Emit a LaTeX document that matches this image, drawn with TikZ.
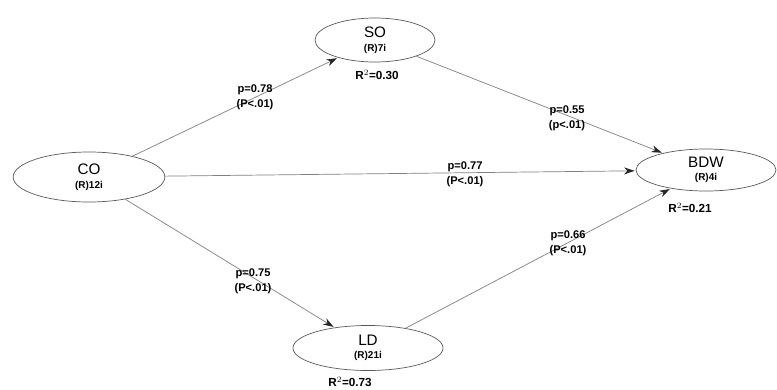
\documentclass[tikz,border=0pt]{standalone}
\usepackage{fontspec}
\setmainfont{Liberation Sans}
\usetikzlibrary{arrows.meta,shapes.geometric}

\begin{document}
\begin{tikzpicture}[
        x=0.03cm, y=-0.03cm,
        construct/.style={draw=black!65, line width=0.6pt, ellipse, align=center, inner sep=0pt,
            font=\fontsize{13}{13.5}\selectfont},
        coef/.style={align=center, font=\fontsize{9.5}{12.5}\selectfont\bfseries},
        rsq/.style={font=\fontsize{10}{11}\selectfont\bfseries},
        path/.style={draw=black!50, semithick, -{Stealth[length=9pt,width=6pt,black!85]}, shorten >=1pt}
    ]
        \useasboundingbox (0,0) rectangle (777,390);
        \newcommand{\ind}[1]{\\[-2pt]{\fontsize{8.5}{9}\selectfont\bfseries #1}}

        \node[construct, minimum width=3.6cm, minimum height=1.32cm] (SO) at (375,40) {SO\ind{(R)7i}};
        \node[construct, minimum width=4.55cm, minimum height=1.5cm] (CO) at (89,177) {CO\ind{(R)12i}};
        \node[construct, minimum width=4.2cm, minimum height=1.26cm] (BDW) at (706,170) {BDW\ind{(R)4i}};
        \node[construct, minimum width=4.5cm, minimum height=1.35cm] (LD) at (368,348) {LD\ind{(R)21i}};

        \node[rsq] (rSO) at (377,75) {R$^{2}$=0.30};
        \node[rsq] (rBDW) at (690,208) {R$^{2}$=0.21};
        \node[rsq] (rLD) at (350,382) {R$^{2}$=0.73};

        \draw[path] (CO) -- (SO);
        \draw[path] (SO) -- (BDW);
        \draw[path] (CO) -- (BDW);
        \draw[path] (CO) -- (LD);
        \draw[path] (LD) -- (BDW);

        \node[coef] (cCOSO) at (255,97) {p=0.78\\(P<.01)};
        \node[coef] (cSOBDW) at (567,118) {p=0.55\\(p<.01)};
        \node[coef] (cCOBDW) at (465,174) {p=0.77\\(P<.01)};
        \node[coef] (cCOLD) at (253,281) {p=0.75\\(P<.01)};
        \node[coef] (cLDBDW) at (568,243) {p=0.66\\(P<.01)};
    \end{tikzpicture}
\end{document}
